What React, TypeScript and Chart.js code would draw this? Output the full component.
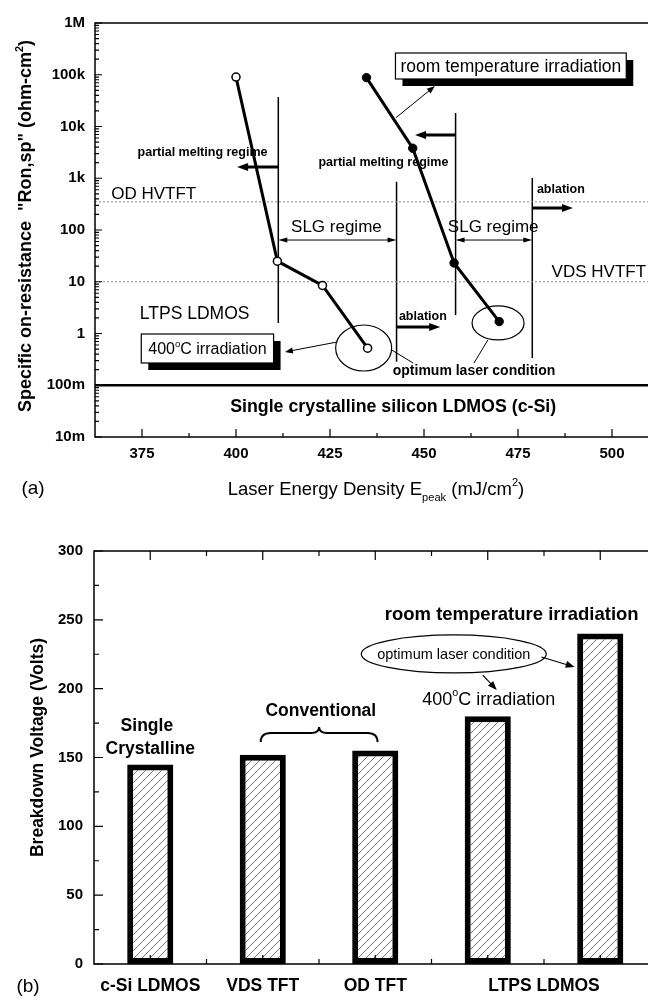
import React, { useEffect, useRef } from 'react';
import { Chart, registerables } from 'chart.js';
Chart.register(...registerables);

// ---------------- Panel (a) data ----------------
const energy400 = [400, 411, 423, 435];
const ron400 = [90000, 25, 8.5, 0.52];
const energyRT = [434.7, 447, 458, 470];
const ronRT = [88000, 3800, 23, 1.7];
const odHvtftLevel = 350;
const vdsHvtftLevel = 10;
const cSiLevel = 0.1;
const energyRange = [362.5, 510];
const energyTicks = [375, 400, 425, 450, 475, 500];
const ronRange = [0.01, 1e6];
const ronTicks = [0.01, 0.1, 1, 10, 100, 1e3, 1e4, 1e5, 1e6];
const ronTickLabels = ['10m', '100m', '1', '10', '100', '1k', '10k', '100k', '1M'];
// regime boundary lines: [energy, ronTop, ronBottom]
const regimeLines = [
  [411.25, 37000, 1.6],
  [442.7, 857, 0.285],
  [458.4, 18200, 2.28],
  [478.8, 1010, 0.336],
];
// thick arrows: [fromEnergy, toEnergy, ron]
const regimeArrows = [
  [411.25, 400.3, 1650],
  [458.4, 447.6, 6850],
  [478.8, 489.6, 266],
  [442.7, 454.3, 1.34],
];
// SLG spans: [fromEnergy, toEnergy, ron]
const slgSpans = [
  [411.25, 442.7, 64],
  [458.4, 478.8, 64],
];

// ---------------- Panel (b) data ----------------
const devices = ['c-Si LDMOS', 'VDS TFT', 'OD TFT', 'LTPS LDMOS 400°C', 'LTPS LDMOS RT'];
const breakdown = [145, 152, 155, 180, 240];
const voltRange = [0, 300];
const voltTicks = [0, 50, 100, 150, 200, 250, 300];
const groupLabels = ['c-Si LDMOS', 'VDS TFT', 'OD TFT', 'LTPS LDMOS'];
const groupCenters = [0, 1, 2, 3.5];

const FONT = "'Liberation Sans', Arial, Helvetica, sans-serif";
const fontStr = (size: number, bold = false) => `${bold ? 'bold ' : ''}${size}px ${FONT}`;

type Seg = { t: string; sup?: boolean; sub?: boolean };

function drawRich(ctx: CanvasRenderingContext2D, segs: Seg[], x: number, y: number, size: number, bold = false, align: 'center' | 'left' | 'right' = 'center', rotate = 0) {
  ctx.save();
  ctx.translate(x, y);
  if (rotate) ctx.rotate(rotate);
  const small = size * 0.6;
  const ws = segs.map((s) => {
    ctx.font = fontStr(s.sup || s.sub ? small : size, bold);
    return ctx.measureText(s.t).width;
  });
  const total = ws.reduce((a, b) => a + b, 0);
  let cx = align === 'center' ? -total / 2 : align === 'right' ? -total : 0;
  ctx.textBaseline = 'alphabetic';
  ctx.textAlign = 'left';
  ctx.fillStyle = '#000';
  const base = size * 0.36;
  segs.forEach((s, i) => {
    ctx.font = fontStr(s.sup || s.sub ? small : size, bold);
    let dy = base;
    if (s.sup) dy = base - size * 0.45;
    if (s.sub) dy = base + size * 0.32;
    ctx.fillText(s.t, cx, dy);
    cx += ws[i];
  });
  ctx.restore();
  return total;
}

function arrowHead(ctx: CanvasRenderingContext2D, x1: number, y1: number, x2: number, y2: number, len: number, half: number) {
  const a = Math.atan2(y2 - y1, x2 - x1);
  const c = Math.cos(a), s = Math.sin(a);
  ctx.beginPath();
  ctx.moveTo(x2, y2);
  ctx.lineTo(x2 - len * c + half * s, y2 - len * s - half * c);
  ctx.lineTo(x2 - len * c - half * s, y2 - len * s + half * c);
  ctx.closePath();
  ctx.fill();
}

function drawArrow(ctx: CanvasRenderingContext2D, x1: number, y1: number, x2: number, y2: number, lw: number, len: number, half: number, both = false) {
  const a = Math.atan2(y2 - y1, x2 - x1);
  const c = Math.cos(a), s = Math.sin(a);
  ctx.save();
  ctx.strokeStyle = '#000';
  ctx.fillStyle = '#000';
  ctx.lineWidth = lw;
  ctx.beginPath();
  const sx = both ? x1 + len * 0.7 * c : x1;
  const sy = both ? y1 + len * 0.7 * s : y1;
  ctx.moveTo(sx, sy);
  ctx.lineTo(x2 - len * 0.7 * c, y2 - len * 0.7 * s);
  ctx.stroke();
  arrowHead(ctx, x1, y1, x2, y2, len, half);
  if (both) arrowHead(ctx, x2, y2, x1, y1, len, half);
  ctx.restore();
}

function line(ctx: CanvasRenderingContext2D, x1: number, y1: number, x2: number, y2: number, lw: number) {
  ctx.save();
  ctx.strokeStyle = '#000';
  ctx.lineWidth = lw;
  ctx.beginPath();
  ctx.moveTo(x1, y1);
  ctx.lineTo(x2, y2);
  ctx.stroke();
  ctx.restore();
}

function ellipse(ctx: CanvasRenderingContext2D, cx: number, cy: number, rx: number, ry: number) {
  ctx.save();
  ctx.strokeStyle = '#000';
  ctx.lineWidth = 1.2;
  ctx.beginPath();
  ctx.ellipse(cx, cy, rx, ry, 0, 0, Math.PI * 2);
  ctx.stroke();
  ctx.restore();
}

// ---------------- annotation specs (data coordinates) ----------------
const labelsA = [
  { segs: [{ t: 'partial melting regime' }], x: 391.1, y: 3360, size: 12.5, bold: true },
  { segs: [{ t: 'partial melting regime' }], x: 439.2, y: 2150, size: 12.5, bold: true },
  { segs: [{ t: 'SLG regime' }], x: 426.7, y: 119, size: 17, bold: false },
  { segs: [{ t: 'SLG regime' }], x: 468.4, y: 119, size: 17, bold: false },
  { segs: [{ t: 'ablation' }], x: 486.4, y: 648, size: 12.5, bold: true },
  { segs: [{ t: 'ablation' }], x: 449.7, y: 2.18, size: 12.5, bold: true },
  { segs: [{ t: 'OD HVTFT' }], x: 378.1, y: 519, size: 17, bold: false },
  { segs: [{ t: 'VDS HVTFT' }], x: 496.5, y: 16.1, size: 17, bold: false },
  { segs: [{ t: 'LTPS LDMOS' }], x: 389, y: 2.49, size: 17.5, bold: false },
  { segs: [{ t: 'optimum laser condition' }], x: 463.3, y: 0.197, size: 14, bold: true },
  { segs: [{ t: 'Single crystalline silicon LDMOS (c-Si)' }], x: 441.8, y: 0.0397, size: 17.8, bold: true },
];
const boxesA = [
  { segs: [{ t: 'room temperature irradiation' }], x: 473.1, y: 147600, size: 17.5, padX: 5, h: 26 },
  { segs: [{ t: '400' }, { t: 'o', sup: true }, { t: 'C irradiation' }], x: 392.4, y: 0.513, size: 16, padX: 7, h: 29 },
];
const ellipsesA = [
  { x: 433.95, y: 0.525, rx: 28, ry: 23 },
  { x: 469.7, y: 1.6, rx: 26, ry: 17 },
];
const leaderLinesA = [
  [441.4, 0.48, 447.1, 0.269],
  [467.0, 0.75, 463.3, 0.269],
];
const pointerArrowsA = [
  [442.55, 14800, 452.9, 60600],
  [426.9, 0.685, 413.0, 0.44],
];

const labelsB = [
  { segs: [{ t: 'Single' }], x: -0.03, y: 173.6, size: 17.5, bold: true },
  { segs: [{ t: 'Crystalline' }], x: 0.0, y: 156.9, size: 17.5, bold: true },
  { segs: [{ t: 'Conventional' }], x: 1.516, y: 184.5, size: 17.5, bold: true },
  { segs: [{ t: '400' }, { t: 'o', sup: true }, { t: 'C irradiation' }], x: 3.009, y: 193.2, size: 18, bold: false },
  { segs: [{ t: 'room temperature irradiation' }], x: 3.213, y: 255, size: 18.5, bold: true },
];
const ellipseB = { x: 2.698, y: 225.2, rx: 92.5, ry: 19, text: 'optimum laser condition', size: 14.5 };
const pointerArrowsB = [
  [3.477, 223, 3.773, 215.7],
  [2.956, 209.9, 3.08, 199],
];
const braceB = { from: 0.982, to: 2.02, y: 161.3 };

function makeHatch(): CanvasPattern | string {
  const c = document.createElement('canvas');
  c.width = 8;
  c.height = 8;
  const g = c.getContext('2d');
  if (!g) return '#fff';
  g.fillStyle = '#fff';
  g.fillRect(0, 0, 8, 8);
  g.strokeStyle = '#666';
  g.lineWidth = 0.9;
  g.beginPath();
  g.moveTo(-1, 9);
  g.lineTo(9, -1);
  g.moveTo(-3, 3);
  g.lineTo(3, -3);
  g.moveTo(5, 11);
  g.lineTo(11, 5);
  g.stroke();
  return g.createPattern(c, 'repeat') || '#fff';
}

const tickFont = { family: FONT, size: 15, weight: 'bold' as const };

export default function App() {
  const refA = useRef<HTMLCanvasElement>(null);
  const refB = useRef<HTMLCanvasElement>(null);

  useEffect(() => {
    const pluginA = {
      id: 'decorA',
      beforeDatasetsDraw(chart: any) {
        const ctx: CanvasRenderingContext2D = chart.ctx;
        const xs = chart.scales.x, ys = chart.scales.y;
        const px = (v: number) => xs.getPixelForValue(v);
        const py = (v: number) => ys.getPixelForValue(v);
        regimeLines.forEach(([e, t, b]) => line(ctx, px(e), py(t), px(e), py(b), 1.5));
        regimeArrows.forEach(([f, t, r]) => drawArrow(ctx, px(f), py(r), px(t), py(r), 3, 11, 4));
        slgSpans.forEach(([f, t, r]) => drawArrow(ctx, px(f), py(r), px(t), py(r), 1, 9, 2.5, true));
        ellipsesA.forEach((e) => ellipse(ctx, px(e.x), py(e.y), e.rx, e.ry));
        leaderLinesA.forEach(([x1, y1, x2, y2]) => line(ctx, px(x1), py(y1), px(x2), py(y2), 1));
        pointerArrowsA.forEach(([x1, y1, x2, y2]) => drawArrow(ctx, px(x1), py(y1), px(x2), py(y2), 1, 8, 3));
        labelsA.forEach((l) => drawRich(ctx, l.segs, px(l.x), py(l.y), l.size, l.bold));
        boxesA.forEach((b) => {
          ctx.save();
          let w = 0;
          b.segs.forEach((s) => {
            ctx.font = fontStr((s as Seg).sup ? b.size * 0.6 : b.size);
            w += ctx.measureText(s.t).width;
          });
          const cx = px(b.x), cy = py(b.y);
          const bw = w + b.padX * 2;
          const x0 = cx - bw / 2, y0 = cy - b.h / 2;
          ctx.fillStyle = '#000';
          ctx.fillRect(x0 + 7, y0 + 7, bw, b.h);
          ctx.fillStyle = '#fff';
          ctx.fillRect(x0, y0, bw, b.h);
          ctx.strokeStyle = '#000';
          ctx.lineWidth = 1.2;
          ctx.strokeRect(x0, y0, bw, b.h);
          ctx.restore();
          drawRich(ctx, b.segs as Seg[], cx, cy, b.size, false);
        });
      },
      afterDraw(chart: any) {
        const ctx: CanvasRenderingContext2D = chart.ctx;
        const { left, right, top, bottom } = chart.chartArea;
        const xs = chart.scales.x, ys = chart.scales.y;
        ctx.save();
        ctx.strokeStyle = '#000';
        ctx.lineWidth = 1.5;
        ctx.strokeRect(left, top, right - left, bottom - top);
        ctx.lineWidth = 1.2;
        ctx.beginPath();
        ronTicks.forEach((d, i) => {
          const y = ys.getPixelForValue(d);
          ctx.moveTo(left, y);
          ctx.lineTo(left + 7, y);
          if (i < ronTicks.length - 1) {
            for (let k = 2; k <= 9; k++) {
              const yy = ys.getPixelForValue(d * k);
              ctx.moveTo(left, yy);
              ctx.lineTo(left + 4, yy);
            }
          }
        });
        energyTicks.forEach((v) => {
          const x = xs.getPixelForValue(v);
          ctx.moveTo(x, bottom);
          ctx.lineTo(x, bottom - 8);
          const xm = xs.getPixelForValue(v + 12.5);
          if (v + 12.5 < energyRange[1]) {
            ctx.moveTo(xm, bottom);
            ctx.lineTo(xm, bottom - 4);
          }
        });
        ctx.stroke();
        ctx.restore();
        drawRich(ctx, [{ t: 'Specific on-resistance  "Ron,sp" (ohm-cm' }, { t: '2', sup: true }, { t: ')' }], 25, 226, 18, true, 'center', -Math.PI / 2);
        drawRich(ctx, [{ t: 'Laser Energy Density E' }, { t: 'peak', sub: true }, { t: ' (mJ/cm' }, { t: '2', sup: true }, { t: ')' }], 376, bottom + 51, 18.5, false);
        drawRich(ctx, [{ t: '(a)' }], 33, bottom + 50, 19, false);
      },
    };

    const hatch = makeHatch();

    const pluginB = {
      id: 'decorB',
      afterDatasetsDraw(chart: any) {
        const ctx: CanvasRenderingContext2D = chart.ctx;
        const xs = chart.scales.x, ys = chart.scales.y;
        const px = (v: number) => xs.getPixelForValue(v);
        const py = (v: number) => ys.getPixelForValue(v);
        labelsB.forEach((l) => drawRich(ctx, l.segs as Seg[], px(l.x), py(l.y), l.size, l.bold));
        ellipse(ctx, px(ellipseB.x), py(ellipseB.y), ellipseB.rx, ellipseB.ry);
        drawRich(ctx, [{ t: ellipseB.text }], px(ellipseB.x), py(ellipseB.y), ellipseB.size, false);
        pointerArrowsB.forEach(([x1, y1, x2, y2]) => drawArrow(ctx, px(x1), py(y1), px(x2), py(y2), 1.2, 9, 3.5));
        const L = px(braceB.from), R = px(braceB.to), C = (L + R) / 2;
        const B = py(braceB.y), M = B - 9, T = B - 15;
        ctx.save();
        ctx.strokeStyle = '#000';
        ctx.lineWidth = 2;
        ctx.beginPath();
        ctx.moveTo(L, B);
        ctx.quadraticCurveTo(L, M, L + 10, M);
        ctx.lineTo(C - 8, M);
        ctx.quadraticCurveTo(C, M, C, T);
        ctx.quadraticCurveTo(C, M, C + 8, M);
        ctx.lineTo(R - 10, M);
        ctx.quadraticCurveTo(R, M, R, B);
        ctx.stroke();
        ctx.restore();
      },
      afterDraw(chart: any) {
        const ctx: CanvasRenderingContext2D = chart.ctx;
        const { left, right, top, bottom } = chart.chartArea;
        const xs = chart.scales.x, ys = chart.scales.y;
        ctx.save();
        ctx.strokeStyle = '#000';
        ctx.lineWidth = 1.5;
        ctx.strokeRect(left, top, right - left, bottom - top);
        ctx.lineWidth = 1.2;
        ctx.beginPath();
        voltTicks.forEach((v) => {
          const y = ys.getPixelForValue(v);
          ctx.moveTo(left, y);
          ctx.lineTo(left + 9, y);
          if (v + 25 < voltRange[1]) {
            const yy = ys.getPixelForValue(v + 25);
            ctx.moveTo(left, yy);
            ctx.lineTo(left + 5, yy);
          }
        });
        devices.forEach((_, i) => {
          const x = xs.getPixelForValue(i);
          ctx.moveTo(x, bottom);
          ctx.lineTo(x, bottom - 9);
          ctx.moveTo(x, top);
          ctx.lineTo(x, top + 9);
          if (i < devices.length - 1) {
            const xm = xs.getPixelForValue(i + 0.5);
            ctx.moveTo(xm, bottom);
            ctx.lineTo(xm, bottom - 5);
            ctx.moveTo(xm, top);
            ctx.lineTo(xm, top + 5);
          }
        });
        ctx.stroke();
        ctx.restore();
        groupLabels.forEach((g, i) => drawRich(ctx, [{ t: g }], xs.getPixelForValue(groupCenters[i]), bottom + 21, 17.5, true));
        drawRich(ctx, [{ t: '(b)' }], 28, bottom + 21, 19, false);
        drawRich(ctx, [{ t: 'Breakdown Voltage (Volts)' }], 37, (top + bottom) / 2 - 10, 17.5, true, 'center', -Math.PI / 2);
      },
    };

    const chartA = new Chart(refA.current as HTMLCanvasElement, {
      type: 'scatter',
      data: {
        datasets: [
          {
            data: energy400.map((x, i) => ({ x, y: ron400[i] })),
            showLine: true,
            borderColor: '#000',
            borderWidth: 3,
            pointRadius: 4,
            pointBackgroundColor: '#fff',
            pointBorderColor: '#000',
            pointBorderWidth: 1.5,
          },
          {
            data: energyRT.map((x, i) => ({ x, y: ronRT[i] })),
            showLine: true,
            borderColor: '#000',
            borderWidth: 3,
            pointRadius: 4.2,
            pointBackgroundColor: '#000',
            pointBorderColor: '#000',
            pointBorderWidth: 1,
          },
          {
            data: energyRange.map((x) => ({ x, y: odHvtftLevel })),
            showLine: true,
            borderColor: '#888',
            borderWidth: 1,
            borderDash: [2, 2],
            pointRadius: 0,
          },
          {
            data: energyRange.map((x) => ({ x, y: vdsHvtftLevel })),
            showLine: true,
            borderColor: '#888',
            borderWidth: 1,
            borderDash: [2, 2],
            pointRadius: 0,
          },
          {
            data: energyRange.map((x) => ({ x, y: cSiLevel })),
            showLine: true,
            borderColor: '#000',
            borderWidth: 2.5,
            pointRadius: 0,
          },
        ],
      } as any,
      options: {
        animation: false,
        responsive: false,
        events: [],
        layout: { padding: { top: 23, right: 10.4, left: 0, bottom: 0 } },
        plugins: { legend: { display: false }, tooltip: { enabled: false } },
        scales: {
          x: {
            type: 'linear',
            min: energyRange[0],
            max: energyRange[1],
            grid: { display: false, drawTicks: false },
            border: { display: false },
            ticks: { color: '#000', font: tickFont, padding: 8, autoSkip: false, maxRotation: 0 },
            afterBuildTicks: (s: any) => {
              s.ticks = energyTicks.map((v) => ({ value: v }));
            },
            afterFit: (s: any) => {
              s.height = 83;
            },
          },
          y: {
            type: 'logarithmic',
            min: ronRange[0],
            max: ronRange[1],
            grid: { display: false, drawTicks: false },
            border: { display: false },
            ticks: {
              color: '#000',
              font: tickFont,
              padding: 10,
              autoSkip: false,
              callback: (_v: any, i: number) => ronTickLabels[i],
            },
            afterBuildTicks: (s: any) => {
              s.ticks = ronTicks.map((v) => ({ value: v }));
            },
            afterFit: (s: any) => {
              s.width = 95;
            },
          },
        },
      } as any,
      plugins: [pluginA],
    });

    const chartB = new Chart(refB.current as HTMLCanvasElement, {
      type: 'bar',
      data: {
        labels: devices,
        datasets: [
          {
            data: breakdown,
            backgroundColor: hatch as any,
            borderColor: '#000',
            borderWidth: 6,
            borderSkipped: false,
            barPercentage: 0.41,
            categoryPercentage: 1,
          },
        ],
      },
      options: {
        animation: false,
        responsive: false,
        events: [],
        layout: { padding: { top: 51, right: 3.5, left: 0, bottom: 0 } },
        plugins: { legend: { display: false }, tooltip: { enabled: false } },
        scales: {
          x: {
            type: 'category',
            grid: { display: false, drawTicks: false },
            border: { display: false },
            ticks: { display: false },
            afterFit: (s: any) => {
              s.height = 42;
            },
          },
          y: {
            min: voltRange[0],
            max: voltRange[1],
            grid: { display: false, drawTicks: false },
            border: { display: false },
            ticks: { color: '#000', font: tickFont, padding: 11, stepSize: 50, autoSkip: false },
            afterBuildTicks: (s: any) => {
              s.ticks = voltTicks.map((v) => ({ value: v }));
            },
            afterFit: (s: any) => {
              s.width = 94;
            },
          },
        },
      } as any,
      plugins: [pluginB],
    });

    return () => {
      chartA.destroy();
      chartB.destroy();
    };
  }, []);

  return (
    <div style={{ position: 'fixed', left: 0, top: 0, width: 648, height: 1006, overflow: 'hidden', background: '#fff' }}>
      <canvas ref={refA} width={660} height={520} style={{ position: 'absolute', left: 0, top: 0 }} />
      <canvas ref={refB} width={660} height={506} style={{ position: 'absolute', left: 0, top: 500 }} />
    </div>
  );
}
